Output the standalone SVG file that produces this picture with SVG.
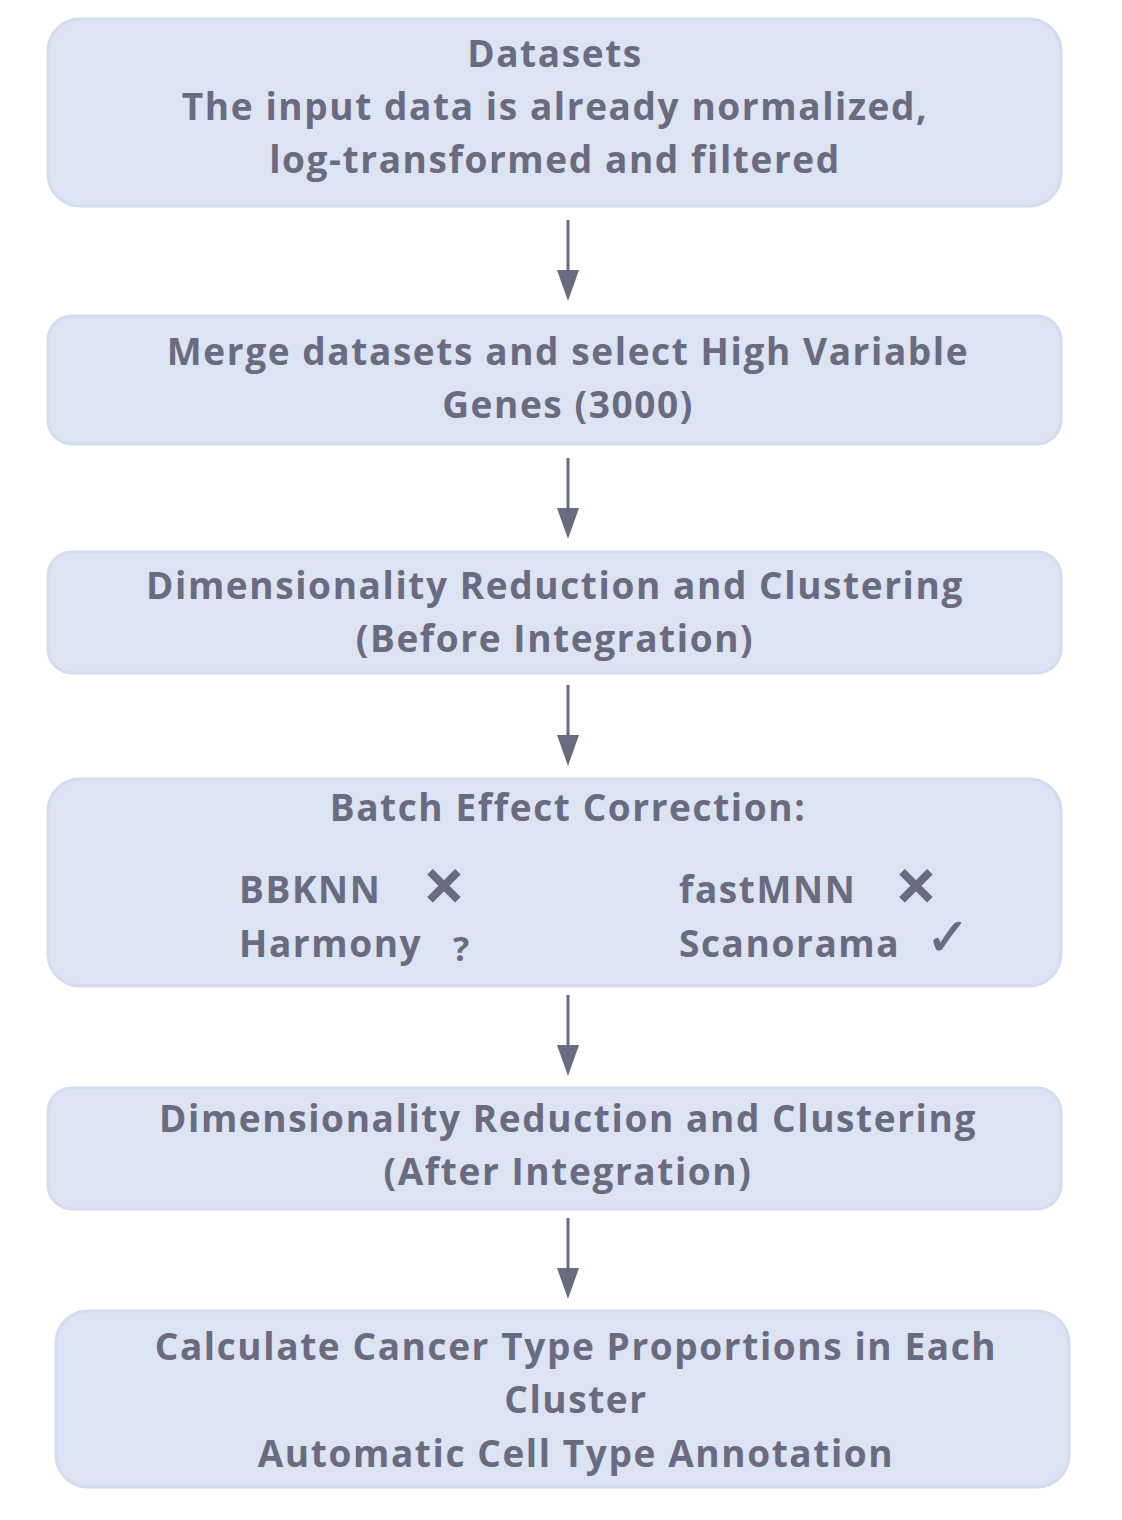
<svg xmlns="http://www.w3.org/2000/svg" width="1122" height="1520" viewBox="0 0 1122 1520">
<defs>
<style>
.box{fill:#DCE3F2;stroke:#D2DEF0;stroke-width:3}
.t{font-family:"Open Sans",Lato,"Liberation Sans",sans-serif;font-weight:bold;font-size:37px;letter-spacing:1.6px;fill:#6A6A80;text-anchor:middle}
.l{text-anchor:start}
.x{font-family:"DejaVu Sans",sans-serif;font-size:50px;letter-spacing:0;stroke:#6A6A80;stroke-width:3}
.e{stroke:#6A6A80;stroke-width:3;fill:none}
.h{fill:#6A6A80}
</style>
</defs>
<rect width="1122" height="1520" fill="#FFFFFF"/>
<g id="n1"><rect class="box" x="48" y="19" width="1013" height="187" rx="32"/>
<text class="t" x="555" y="67">Datasets</text>
<text class="t" x="555" y="120">The input data is already normalized,</text>
<text class="t" x="555" y="173">log-transformed and filtered</text></g>
<g id="n2"><rect class="box" x="48" y="316" width="1013" height="128" rx="24"/>
<text class="t" x="568" y="365">Merge datasets and select High Variable</text>
<text class="t" x="568" y="418">Genes (3000)</text></g>
<g id="n3"><rect class="box" x="48" y="552" width="1013" height="121" rx="24"/>
<text class="t" x="555" y="599">Dimensionality Reduction and Clustering</text>
<text class="t" x="555" y="652">(Before Integration)</text></g>
<g id="n4"><rect class="box" x="48" y="779" width="1013" height="207" rx="32"/>
<text class="t" x="568" y="821">Batch Effect Correction:</text>
<text class="t l" x="239" y="903">BBKNN</text>
<text class="t l x" x="423" y="904">✕</text>
<text class="t l" x="239" y="957">Harmony</text>
<text class="t l" x="453" y="961" style="font-size:34px">?</text>
<text class="t l" x="679" y="903">fastMNN</text>
<text class="t l x" x="895" y="904">✕</text>
<text class="t l" x="679" y="957">Scanorama</text>
<text class="t l x" x="926" y="955" style="font-size:52px;stroke-width:1">✓</text></g>
<g id="n5"><rect class="box" x="48" y="1088" width="1013" height="121" rx="24"/>
<text class="t" x="568" y="1132">Dimensionality Reduction and Clustering</text>
<text class="t" x="568" y="1185">(After Integration)</text></g>
<g id="n6"><rect class="box" x="56" y="1311" width="1013" height="176" rx="32"/>
<text class="t" x="576" y="1360">Calculate Cancer Type Proportions in Each</text>
<text class="t" x="576" y="1413">Cluster</text>
<text class="t" x="576" y="1467">Automatic Cell Type Annotation</text></g>
<g id="edges">
<line class="e" x1="568" y1="220" x2="568" y2="275"/><polygon class="h" points="557,270 579,270 568,301"/>
<line class="e" x1="568" y1="458" x2="568" y2="513"/><polygon class="h" points="557,508 579,508 568,539"/>
<line class="e" x1="568" y1="685" x2="568" y2="740"/><polygon class="h" points="557,735 579,735 568,766"/>
<line class="e" x1="568" y1="995" x2="568" y2="1050"/><polygon class="h" points="557,1045 579,1045 568,1076"/>
<line class="e" x1="568" y1="1218" x2="568" y2="1273"/><polygon class="h" points="557,1268 579,1268 568,1299"/>
</g>
</svg>
